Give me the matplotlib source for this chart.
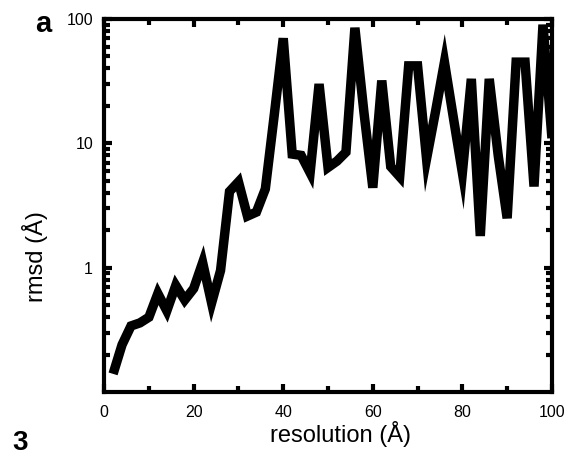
import matplotlib.pyplot as plt
from matplotlib.ticker import LogLocator, NullFormatter, FixedLocator

plt.rcParams["font.family"] = ["Liberation Sans", "DejaVu Sans"]

# resolution (A) and rmsd (A)
resolution = list(range(2, 102, 2))
rmsd = [0.14, 0.24, 0.34, 0.36, 0.40, 0.62, 0.45, 0.72, 0.55, 0.68,
        1.1, 0.52, 0.95, 4.1, 4.9, 2.6, 2.8, 4.3, 17, 70,
        8.2, 8.0, 5.8, 30, 6.4, 7.2, 8.5, 85, 18, 4.4,
        32, 6.5, 5.4, 42, 42, 7.5, 18, 45, 16, 5.8,
        33, 1.8, 33, 8, 2.5, 45, 45, 4.5, 90, 11]

x_ticks = [0, 20, 40, 60, 80, 100]
y_ticks = [1, 10, 100]
y_tick_labels = ["1", "10", "100"]

fig = plt.figure(figsize=(5.69, 4.58), dpi=100)
ax = fig.add_axes([0.183, 0.144, 0.787, 0.8145])

ax.plot(resolution, rmsd, color="black", lw=6.8, solid_joinstyle="miter",
        solid_capstyle="butt")

ax.set_yscale("log")
ax.set_xlim(0, 100)
ax.set_ylim(0.1, 100)

ax.set_xticks(x_ticks)
ax.xaxis.set_minor_locator(FixedLocator([10, 30, 50, 70, 90]))
ax.set_yticks(y_ticks)
ax.set_yticklabels(y_tick_labels)
ax.yaxis.set_minor_locator(LogLocator(base=10, subs=range(2, 10)))
ax.yaxis.set_minor_formatter(NullFormatter())

for side in ax.spines.values():
    side.set_linewidth(3)

ax.tick_params(which="both", direction="in", top=True, right=True,
               labelsize=11.5)
ax.tick_params(axis="x", pad=9)
ax.tick_params(axis="y", pad=8)
ax.tick_params(which="major", length=6, width=3)
ax.tick_params(which="minor", length=4, width=3)

ax.set_xlabel("resolution (Å)", fontsize=17)
ax.set_ylabel("rmsd (Å)", fontsize=17)
ax.xaxis.set_label_coords(0.527, -0.078)
ax.yaxis.set_label_coords(-0.125, 0.362)

fig.text(0.062, 0.93, "a", fontsize=21, fontweight="bold", va="baseline")
fig.text(0.021, 0.0175, "3", fontsize=20, fontweight="bold", va="baseline")

fig.savefig("out.png", dpi=100)
